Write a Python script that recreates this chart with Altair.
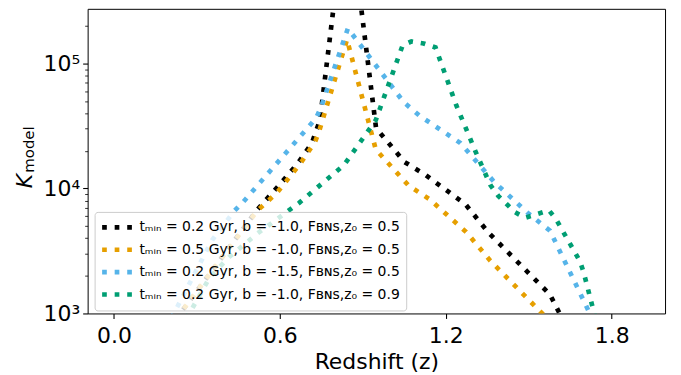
import altair as alt
import pandas as pd

# ---------------- data ----------------
labels = [
    "tₘᵢₙ = 0.2 Gyr, b = -1.0, Fʙɴꜱ,z₀ = 0.5",
    "tₘᵢₙ = 0.5 Gyr, b = -1.0, Fʙɴꜱ,z₀ = 0.5",
    "tₘᵢₙ = 0.2 Gyr, b = -1.5, Fʙɴꜱ,z₀ = 0.5",
    "tₘᵢₙ = 0.2 Gyr, b = -1.0, Fʙɴꜱ,z₀ = 0.9",
]
colors = ["#000000", "#E69F00", "#56B4E9", "#009E73"]

black_z = [0.194, 0.256, 0.518, 0.608, 0.666, 0.716, 0.745, 0.806, 0.882,
           0.948, 1.051, 1.127, 1.271, 1.356, 1.577, 1.641]
black_k = [746, 1117, 6745, 11270, 15960, 23070, 35160, 458000, 458000,
           30340, 16260, 12820, 7464, 4395, 1416, 746]

orange_z = [0.202, 0.256, 0.518, 0.590, 0.673, 0.727, 0.740, 0.843, 0.947,
            1.066, 1.141, 1.274, 1.361, 1.552, 1.606]
orange_k = [746, 1117, 6622, 9260, 15670, 23500, 27670, 155200, 20460,
            10520, 8200, 4477, 2642, 982, 733]

blue_z = [0.187, 0.230, 0.356, 0.436, 0.468, 0.731, 0.749, 0.846, 1.048,
          1.105, 1.253, 1.375, 1.498, 1.577, 1.721, 1.750]
blue_k = [746, 1137, 3887, 6617, 7806, 36460, 44620, 190100, 48910,
          38170, 23040, 11270, 6322, 4585, 1000, 732]

green_z = [0.238, 0.281, 0.346, 0.418, 0.518, 0.670, 0.832, 0.947, 1.044,
           1.076, 1.120, 1.163, 1.238, 1.307, 1.361, 1.390, 1.451, 1.487,
           1.573, 1.598, 1.685, 1.699, 1.735, 1.753]
green_k = [746, 1076, 1936, 2846, 4341, 7664, 15390, 35140, 139100,
           149700, 144300, 134100, 46280, 19900, 10660, 8713, 6439, 5821,
           6679, 5715, 2620, 2122, 1037, 732]

x_ticks = [0.0, 0.6, 1.2, 1.8]
y_major = [1000, 10000, 100000]
y_minor = [2000, 3000, 4000, 5000, 6000, 7000, 8000, 9000,
           20000, 30000, 40000, 50000, 60000, 70000, 80000, 90000, 200000]

rows = []
for lab, zs, ks in zip(labels, [black_z, orange_z, blue_z, green_z],
                       [black_k, orange_k, blue_k, green_k]):
    for z, k in zip(zs, ks):
        rows.append({"series": lab, "z": z, "K": k})
df = pd.DataFrame(rows)

major_test = "indexof([1000, 10000, 100000], datum.value) >= 0"

lines = alt.Chart(df).mark_line(
    clip=True, strokeWidth=4.7, strokeDash=[4.7, 7.9], strokeCap="butt"
).encode(
    x=alt.X("z:Q",
            scale=alt.Scale(domain=[-0.095, 1.993], nice=False, zero=False),
            axis=alt.Axis(values=x_ticks, format=".1f", title="Redshift (z)",
                          grid=False, domain=False, tickSize=5, tickWidth=1.1,
                          tickColor="black", labelFontSize=22, labelPadding=7.5,
                          labelColor="black", labelFlush=False, titleFontSize=22,
                          titleFontWeight="normal", titleColor="black", titleY=55,
                          titleBaseline="alphabetic")),
    y=alt.Y("K:Q",
            scale=alt.Scale(type="log", domain=[1000, 273000], nice=False),
            axis=alt.Axis(values=y_major + y_minor, title=None, grid=False, domain=False,
                          labelExpr="datum.value == 1000 ? '10³' : datum.value == 10000 ? '10⁴' : datum.value == 100000 ? '10⁵' : ''",
                          labelFontSize=22, labelPadding=3, labelColor="black",
                          labelOverlap=False, labelFlush=False, tickColor="black",
                          tickSize={"condition": {"test": major_test, "value": 5}, "value": 3},
                          tickWidth={"condition": {"test": major_test, "value": 1.1}, "value": 0.8})),
    color=alt.Color("series:N",
                    scale=alt.Scale(domain=labels, range=colors),
                    legend=alt.Legend(
                        orient="none", legendX=7, legendY=204, title=None,
                        labelFontSize=14, labelLimit=600, labelColor="black",
                        symbolType="M-2.135,0H2.135", symbolSize=196,
                        symbolStrokeWidth=4.7, symbolDash=[4.7, 7.9],
                        symbolOffset=7, labelOffset=13, rowPadding=3.5, padding=6,
                        fillColor="rgba(255,255,255,0.8)", strokeColor="#cccccc",
                        cornerRadius=3)),
)

k_title = alt.Chart(pd.DataFrame({"t": ["K"]})).mark_text(
    angle=270, align="left", baseline="alphabetic", fontSize=22,
    fontStyle="italic", color="black"
).encode(x=alt.value(-56.3), y=alt.value(180.3), text="t:N")

model_title = alt.Chart(pd.DataFrame({"t": ["model"]})).mark_text(
    angle=270, align="left", baseline="alphabetic", fontSize=15, color="black"
).encode(x=alt.value(-53.5), y=alt.value(164.7), text="t:N")

chart = alt.layer(lines, k_title, model_title).properties(
    width=580, height=306,
    autosize=alt.AutoSizeParams(type="none"),
    padding={"left": 80, "top": 0, "right": 8, "bottom": 61},
).configure(font="DejaVu Sans").configure_view(stroke="black", strokeWidth=1)

chart.save("out.html", embed_options={"renderer": "svg", "actions": False})
